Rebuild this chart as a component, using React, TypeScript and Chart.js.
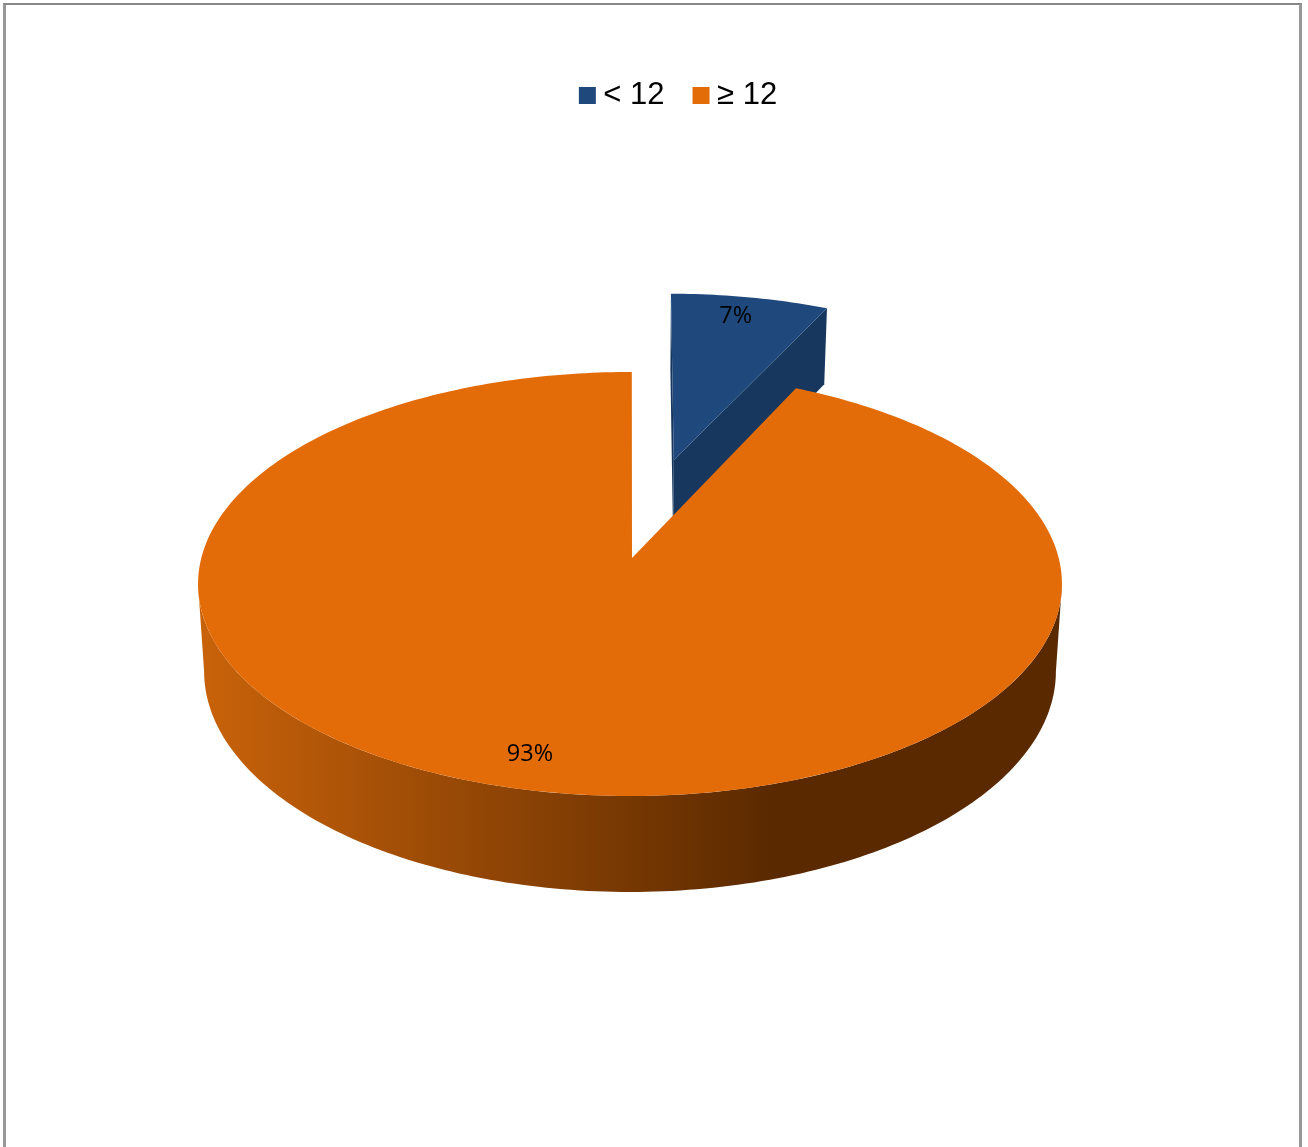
import React, { useEffect, useRef } from "react";
import { Chart, registerables } from "chart.js";

Chart.register(...registerables);

// Share of each group, in percent.
const categories = ["< 12", "≥ 12"];
const shares = [7, 93];
const shareLabels = ["7%", "93%"];

const topColors = ["#1F497D", "#E36C09"];
const faceColors = ["#17375E", "#984807"];

// How far each slice is pulled out of the pie, in pie radii, and the pull's lean in radians.
const explode = [0.51, 0];
const pullLean = 0.0105;
// Where each value label sits inside its slice.
const labelRadial = [0.87, 0.868];
const labelSweep = [0.46, 0.5032];

// Perspective camera for the tilted disc.
const centreX = 630;
const hubShift = 0.0047;
const foreshorten = 0.1226;
const halfWidth = 428.7;
const topPlane = { slope: -140.4, base: 558, scale: 1 };
const bottomPlane = { slope: -138.4, base: 644.2, scale: 0.986 };

type Plane = typeof topPlane;
type Pt = [number, number];

function project(plane: Plane, u: number, v: number): Pt {
  const w = 1 + foreshorten * v;
  return [
    centreX + (halfWidth * plane.scale * u) / w,
    (plane.slope * v + plane.base) / w,
  ];
}

function rimPoints(plane: Plane, from: number, to: number, ox: number, oy: number): Pt[] {
  const steps = Math.max(2, Math.ceil((Math.abs(to - from) / Math.PI) * 180));
  const pts: Pt[] = [];
  for (let i = 0; i <= steps; i++) {
    const a = from + ((to - from) * i) / steps;
    pts.push(project(plane, ox + Math.cos(a), oy - Math.sin(a)));
  }
  return pts;
}

function fillPoly(ctx: CanvasRenderingContext2D, pts: Pt[], fill: string | CanvasGradient) {
  ctx.beginPath();
  pts.forEach(([x, y], i) => (i ? ctx.lineTo(x, y) : ctx.moveTo(x, y)));
  ctx.closePath();
  ctx.fillStyle = fill;
  ctx.fill();
}

// Replaces the flat arcs with a perspective disc, using the angles the pie controller computed.
const tiltedPie = {
  id: "tiltedPie",
  beforeDatasetsDraw(chart: Chart) {
    const ctx = chart.ctx;
    const arcs = chart.getDatasetMeta(0).data as any[];
    const offsets = arcs.map((arc, i) => {
      const mid = (arc.startAngle + arc.endAngle) / 2 - pullLean;
      return [explode[i] * Math.cos(mid), -explode[i] * Math.sin(mid)];
    });
    const order = arcs.map((_, i) => i).sort((a, b) => explode[b] - explode[a]);

    order.forEach((i) => {
      const arc = arcs[i];
      const [ox, oy] = offsets[i];
      if (explode[i] > 0) {
        // Cut faces of a pulled-out slice.
        [arc.startAngle, arc.endAngle].forEach((a: number) => {
          const rim: Pt[] = [
            project(topPlane, ox, oy),
            project(topPlane, ox + Math.cos(a), oy - Math.sin(a)),
            project(bottomPlane, ox + Math.cos(a), oy - Math.sin(a)),
            project(bottomPlane, ox, oy),
          ];
          fillPoly(ctx, rim, faceColors[i]);
        });
      } else {
        // Front wall of the main slice, shaded from left to right.
        const edge = Math.asin(foreshorten);
        const wall = [
          ...rimPoints(topPlane, edge, Math.PI - edge, ox, oy),
          ...rimPoints(bottomPlane, Math.PI - edge, edge, ox, oy),
        ];
        const shade = ctx.createLinearGradient(205, 0, 1057, 0);
        shade.addColorStop(0, "#C8620A");
        shade.addColorStop(0.67, "#5A2900");
        shade.addColorStop(1, "#5A2900");
        fillPoly(ctx, wall, shade);
      }
      const hub = project(topPlane, explode[i] > 0 ? ox : ox + hubShift, oy);
      fillPoly(ctx, [hub, ...rimPoints(topPlane, arc.startAngle, arc.endAngle, ox, oy)], topColors[i]);
    });

    ctx.fillStyle = "#000";
    ctx.font = '23.5px "Open Sans"';
    ctx.textAlign = "center";
    ctx.textBaseline = "middle";
    arcs.forEach((arc, i) => {
      const a = arc.startAngle + (arc.endAngle - arc.startAngle) * labelSweep[i];
      const [x, y] = project(
        topPlane,
        offsets[i][0] + labelRadial[i] * Math.cos(a),
        offsets[i][1] - labelRadial[i] * Math.sin(a)
      );
      ctx.fillText(shareLabels[i], x, y);
    });
    return false;
  },
};

export default function App() {
  const ref = useRef<HTMLCanvasElement>(null);

  useEffect(() => {
    document.body.style.margin = "0";
    const chart = new Chart(ref.current!, {
      type: "pie",
      data: {
        labels: categories,
        datasets: [{ data: shares, backgroundColor: topColors, borderWidth: 0 }],
      },
      options: {
        responsive: false,
        animation: false,
        rotation: 0.27,
        layout: { padding: { top: 44, left: 56 } },
        plugins: {
          tooltip: { enabled: false },
          legend: {
            position: "top",
            labels: {
              color: "#000",
              font: { family: '"Liberation Sans"', size: 31 },
              padding: 36,
              boxWidth: 1,
              boxHeight: 1,
              // A one-pixel box with a wide stroke keeps the swatch close to its text.
              generateLabels: () =>
                categories.map((text, index) => ({
                  text,
                  index,
                  fillStyle: topColors[index],
                  strokeStyle: topColors[index],
                  lineWidth: 16,
                  fontColor: "#000",
                })),
            },
          },
        },
      },
      plugins: [tiltedPie],
    } as any);
    return () => chart.destroy();
  }, []);

  return (
    <div style={{ position: "relative", width: 1308, height: 1147, overflow: "hidden" }}>
      <canvas ref={ref} width={1308} height={1147} style={{ position: "absolute", left: 0, top: 0 }} />
      <div
        style={{
          position: "absolute",
          left: 3,
          top: 3,
          width: 1293,
          height: 1144,
          borderLeft: "3px solid #979797",
          borderRight: "3px solid #979797",
          borderTop: "2px solid #868686",
          pointerEvents: "none",
        }}
      />
    </div>
  );
}
